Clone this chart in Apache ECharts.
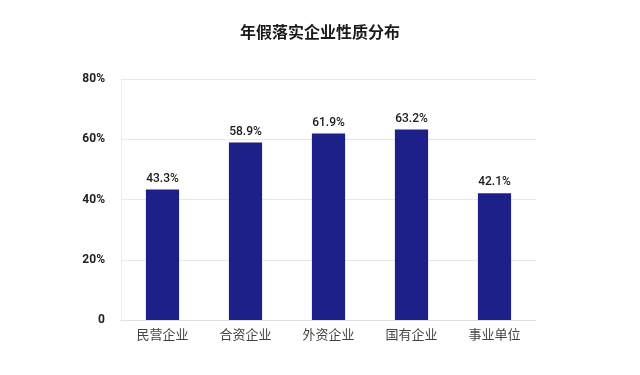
<!DOCTYPE html>
<html>
<head>
<meta charset="utf-8">
<script src="https://cdn.jsdelivr.net/npm/echarts@6/dist/echarts.min.js"></script>
<style>html,body{margin:0;padding:0;background:#fff}#c{width:640px;height:375px}</style>
</head>
<body>
<div id="c"></div>
<script>
const categories = ['民营企业', '合资企业', '外资企业', '国有企业', '事业单位'];
const values = [43.3, 58.9, 61.9, 63.2, 42.1];
const yTicks = [0, 20, 40, 60, 80];

const chart = echarts.init(document.getElementById('c'), null, {renderer: 'canvas'});
chart.setOption({
  animation: false,
  backgroundColor: '#ffffff',
  title: {
    text: '年假落实企业性质分布',
    left: 'center',
    top: 19,
    textStyle: {fontFamily: 'Noto Sans CJK SC', fontSize: 16, fontWeight: 'bold', color: '#1a1a1a'}
  },
  grid: {left: 121, right: 104, top: 79, bottom: 55},
  xAxis: {
    type: 'category',
    data: categories,
    axisLine: {show: true, lineStyle: {color: '#e0e0e0', width: 1}},
    axisTick: {show: false},
    axisLabel: {margin: 8, fontFamily: 'Noto Sans CJK SC', fontSize: 13, color: '#444'}
  },
  yAxis: {
    type: 'value',
    min: yTicks[0],
    max: yTicks[yTicks.length - 1],
    interval: 20,
    axisLine: {show: true, lineStyle: {color: '#ececec', width: 1}},
    axisTick: {show: false},
    splitLine: {lineStyle: {color: '#e8e8e8', width: 1}},
    axisLabel: {
      margin: 16,
      fontFamily: 'Roboto',
      fontWeight: 'bold',
      fontSize: 12,
      color: '#222',
      formatter: v => v === 0 ? '0' : v + '%'
    }
  },
  series: [{
    type: 'bar',
    data: values,
    barWidth: '40%',
    itemStyle: {color: '#1d2088'},
    label: {
      show: true,
      position: 'top',
      distance: 5,
      fontFamily: 'Roboto',
      fontWeight: 500,
      fontSize: 12,
      color: '#1a1a1a',
      formatter: p => p.value.toFixed(1) + '%'
    }
  }]
});
</script>
</body>
</html>
